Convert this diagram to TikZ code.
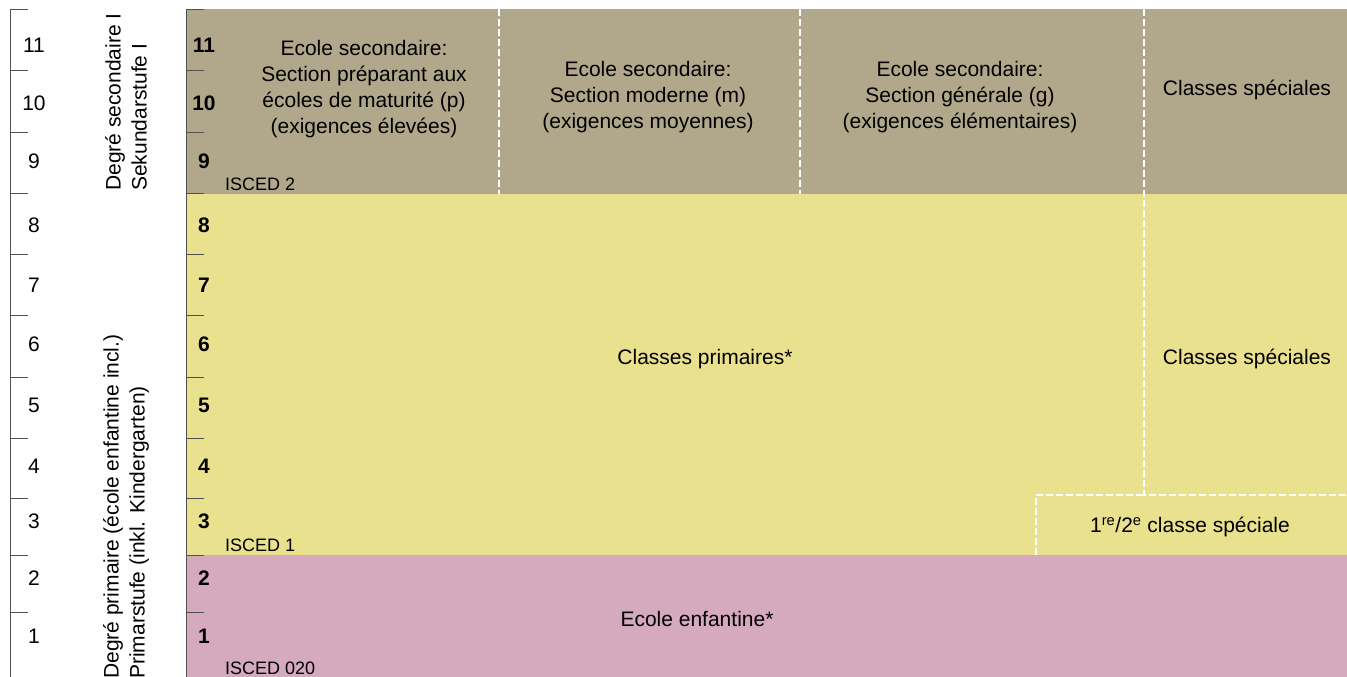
\documentclass[tikz,border=0pt]{standalone}
\usepackage{fontspec}
\setmainfont{Liberation Sans}
\definecolor{seccol}{HTML}{B1A88B}
\definecolor{primcol}{HTML}{E9E18E}
\definecolor{kgcol}{HTML}{D5A9BE}
\definecolor{axiscol}{HTML}{505050}
\begin{document}
\begin{tikzpicture}[x=1pt,y=-1pt,
	txt/.style={align=center,font=\fontsize{21}{26}\selectfont,inner sep=0pt},
	isced/.style={anchor=base west,font=\fontsize{18}{20}\selectfont,inner sep=0pt},
	sep/.style={draw=white,line width=1.3pt,dash pattern=on 7pt off 3pt},
	tick/.style={draw=axiscol,line width=1pt}]
	\useasboundingbox (0,0) rectangle (1347,677);
	% levels
	\fill[seccol] (186,9.5) rectangle (1347,193.5);
	\fill[primcol] (186,193.5) rectangle (1347,555);
	\fill[kgcol] (186,555) rectangle (1347,677);
	% separations
	\draw[sep] (499,9.5) -- (499,193.5);
	\draw[sep] (800,9.5) -- (800,193.5);
	\draw[sep] (1144,9.5) -- (1144,495) -- (1347,495);
	\draw[sep] (1036,555) -- (1036,495) -- (1144,495);
	% axes
	\draw[tick] (10,9.5) -- (10,677);
	\draw[tick] (186.5,9.5) -- (186.5,677);
	\foreach \y in {9.5,70.5,132,193.5,254.5,315.5,377,438,498,555,612}
		{\draw[tick] (10,\y) -- (28,\y);
		 \draw[tick] (186.5,\y) -- (204,\y);}
	\foreach \n/\y in {11/45,10/103.5,9/161.5,8/225,7/285,6/344,5/405,4/466,3/521,2/578,1/636}
		{\node[txt] (yr\n) at (34,\y) {\n};
		 \node[txt,font=\bfseries\fontsize{21}{26}\selectfont] (gr\n) at (204,\y) {\n};}
	% stage names
	\node[txt,align=left,rotate=90,anchor=west] (sek) at (126,191) {Degré secondaire I\\Sekundarstufe I};
	\node[txt,align=left,rotate=90,anchor=west] (prim) at (126,679) {Degré primaire (école enfantine incl.)\\Primarstufe (inkl. Kindergarten)};
	% ISCED
	\node[isced] (isced2) at (225,190) {ISCED 2};
	\node[isced] (isced1) at (225,551) {ISCED 1};
	\node[isced] (isced0) at (225,674) {ISCED 020};
	% sections
	\node[txt] (secp) at (364,89) {Ecole secondaire:\\Section préparant aux\\écoles de maturité (p)\\(exigences élevées)};
	\node[txt] (secm) at (648,97) {Ecole secondaire:\\Section moderne (m)\\(exigences moyennes)};
	\node[txt] (secg) at (960,97) {Ecole secondaire:\\Section générale (g)\\(exigences élémentaires)};
	\node[txt] (secsp) at (1247,90) {Classes spéciales};
	\node[txt] (prcl) at (705,359) {Classes primaires*};
	\node[txt] (prsp) at (1247,359) {Classes spéciales};
	\node[txt] (prsp12) at (1190,527) {1\textsuperscript{re}/2\textsuperscript{e} classe spéciale};
	\node[txt] (kg) at (697,619) {Ecole enfantine*};
\end{tikzpicture}
\end{document}
